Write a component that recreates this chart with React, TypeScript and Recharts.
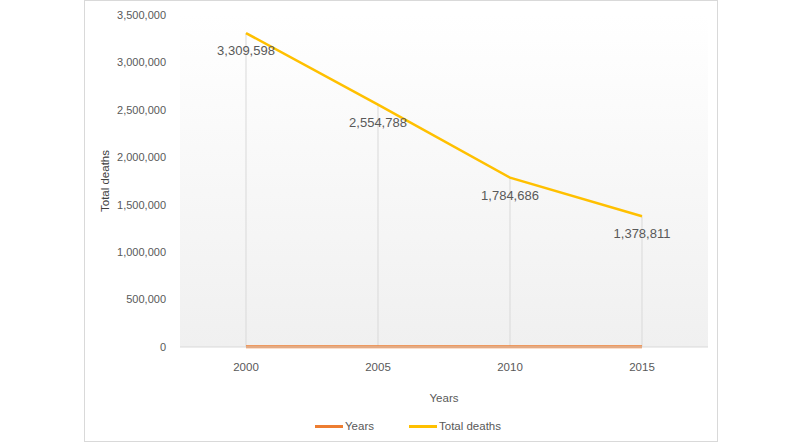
import React from 'react';
import {
  LineChart,
  Line,
  XAxis,
  YAxis,
  CartesianGrid,
  Legend,
  LabelList,
  ReferenceLine,
} from 'recharts';

const YEARS = ['2000', '2005', '2010', '2015'];
const YEARS_SERIES = [2000, 2005, 2010, 2015];
const TOTAL_DEATHS = [3309598, 2554788, 1784686, 1378811];
const Y_TICKS = [0, 500000, 1000000, 1500000, 2000000, 2500000, 3000000, 3500000];

const data = YEARS.map((year, i) => ({
  year,
  years: YEARS_SERIES[i],
  total: TOTAL_DEATHS[i],
}));

const FONT = '"Liberation Sans", Arial, sans-serif';
const TEXT = '#595959';
const fmt = (v: number) => v.toLocaleString('en-US');

const LegendContent = () => (
  <div
    style={{
      display: 'flex',
      justifyContent: 'center',
      alignItems: 'center',
      height: 20,
      paddingLeft: 16,
      fontFamily: FONT,
      fontSize: 11.5,
      color: TEXT,
    }}
  >
    <span style={{ display: 'inline-block', width: 28, height: 3, background: '#ED7D31' }} />
    <span style={{ marginLeft: 2, marginRight: 35 }}>Years</span>
    <span style={{ display: 'inline-block', width: 28, height: 3, background: '#FFC000' }} />
    <span style={{ marginLeft: 2 }}>Total deaths</span>
  </div>
);

export default function App() {
  return (
    <div style={{ position: 'absolute', left: 0, top: 0, width: 800, height: 444, background: '#fff' }}>
      <div
        style={{
          position: 'absolute',
          left: 84,
          top: 0,
          width: 632,
          height: 440,
          border: '1px solid #d9d9d9',
        }}
      />
      <LineChart
        width={800}
        height={444}
        data={data}
        margin={{ top: 15, right: 92, left: 0, bottom: 8 }}
        style={{ position: 'absolute', left: 0, top: 0 }}
      >
        <defs>
          <linearGradient id="bg" x1="0" y1="0" x2="0" y2="1">
            <stop offset="0%" stopColor="#ffffff" />
            <stop offset="100%" stopColor="#f0f0f0" />
          </linearGradient>
        </defs>
        <CartesianGrid fill="url(#bg)" stroke="none" horizontal={false} vertical={false} />
        <XAxis
          dataKey="year"
          height={69}
          padding={{ left: 66, right: 66 }}
          axisLine={{ stroke: '#d9d9d9' }}
          tickLine={false}
          tickMargin={10}
          tick={{ fill: TEXT, fontSize: 11.5, fontFamily: FONT }}
          label={{
            value: 'Years',
            position: 'insideBottom',
            offset: 14,
            fill: TEXT,
            fontSize: 11.5,
            fontFamily: FONT,
          }}
        />
        <YAxis
          width={180}
          domain={[0, 3500000]}
          ticks={Y_TICKS}
          tickFormatter={fmt}
          axisLine={false}
          tickLine={false}
          tickMargin={8}
          tick={{ fill: TEXT, fontSize: 11, fontFamily: FONT }}
          label={{
            value: 'Total deaths',
            angle: -90,
            position: 'center',
            dx: 15,
            fill: '#404040',
            fontSize: 11.5,
            fontFamily: FONT,
          }}
        />
        {data.map((d) => (
          <ReferenceLine
            key={d.year}
            segment={[
              { x: d.year, y: 0 },
              { x: d.year, y: d.total },
            ]}
            stroke="#d9d9d9"
            strokeWidth={1}
          />
        ))}
        <Line
          dataKey="total"
          name="Total deaths"
          stroke="#FFC000"
          strokeWidth={2.5}
          dot={false}
          isAnimationActive={false}
        >
          <LabelList
            dataKey="total"
            position="bottom"
            offset={13}
            formatter={(v: any) => fmt(Number(v))}
            style={{ fill: TEXT, fontSize: 13, fontFamily: FONT }}
          />
        </Line>
        <Line
          dataKey="years"
          name="Years"
          stroke="#ED7D31"
          strokeWidth={3}
          dot={false}
          isAnimationActive={false}
        />
        <Legend
          verticalAlign="bottom"
          content={<LegendContent />}
          wrapperStyle={{ left: 0, width: 800 }}
        />
      </LineChart>
    </div>
  );
}
